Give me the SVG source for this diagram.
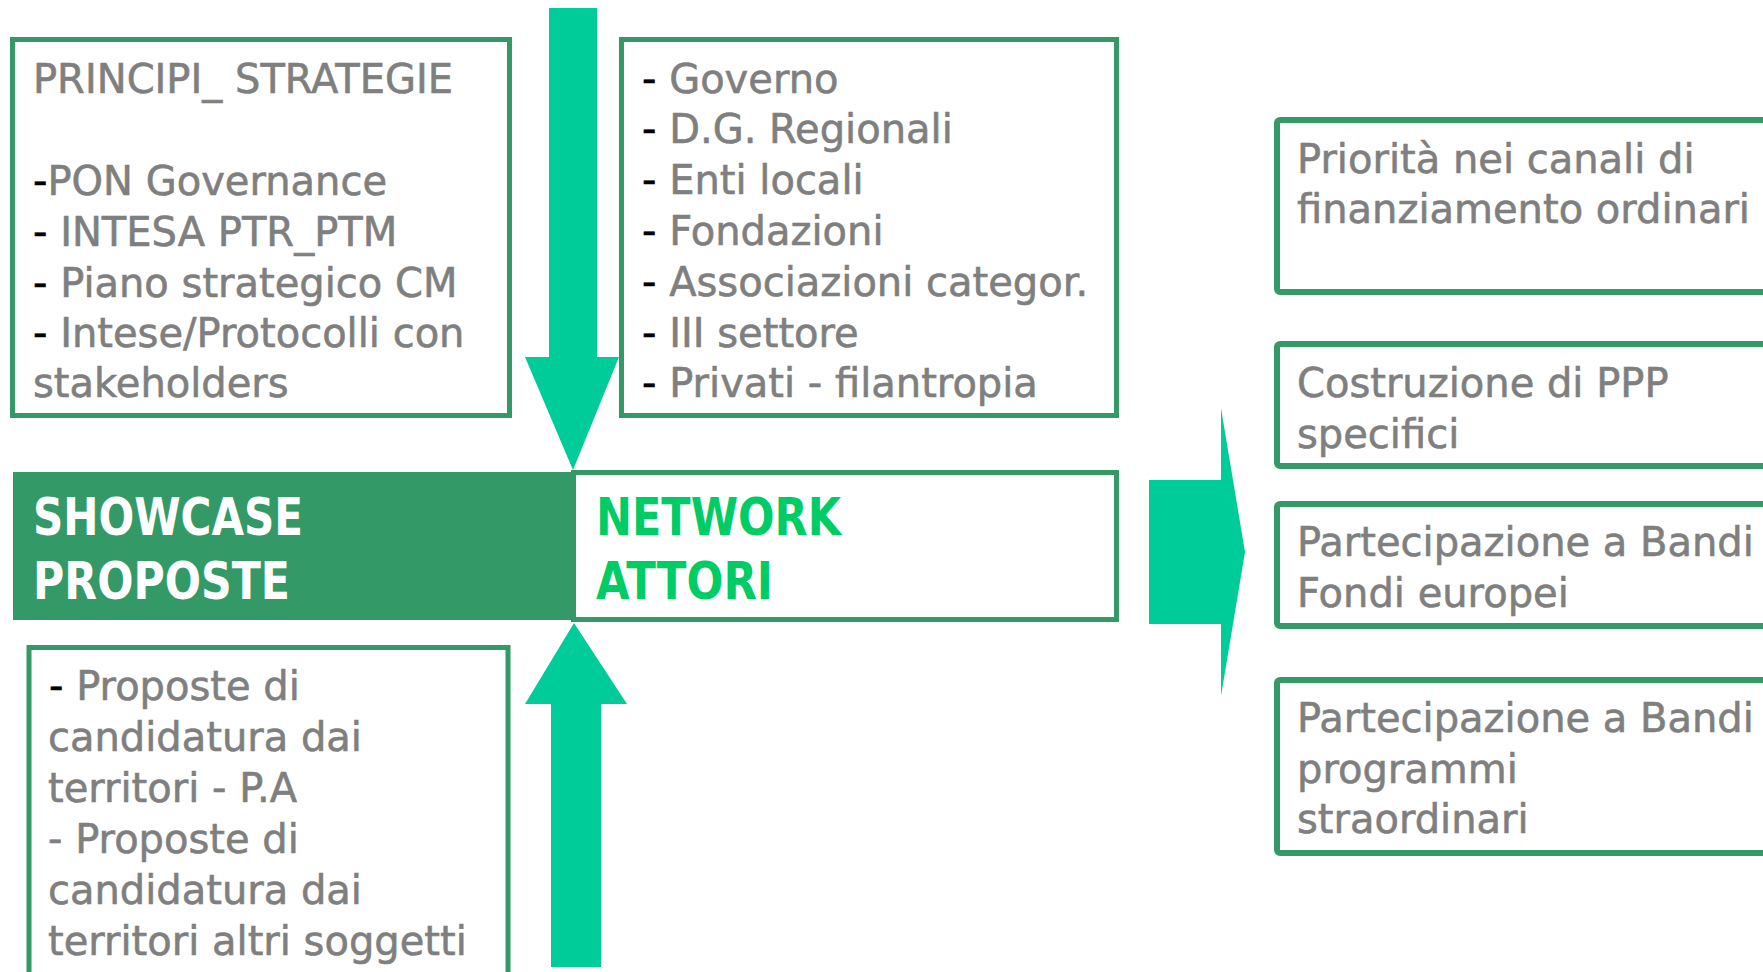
<svg xmlns="http://www.w3.org/2000/svg" width="1763" height="972" viewBox="0 0 1763 972">
<style>
.box{fill:#ffffff;stroke:#339966;stroke-width:5}
.rbox{fill:#ffffff;stroke:#339966;stroke-width:6}
.t{font-family:"DejaVu Sans",Verdana,sans-serif;font-size:40px;fill:#7f7f7f;stroke:#7f7f7f;stroke-width:0.6}
.d{fill:#000000;stroke:#000000}
.big{font-family:"DejaVu Sans",Verdana,sans-serif;font-size:52px;font-weight:bold}
.arrow{fill:#00cc99}
</style>
<rect x="0" y="0" width="1763" height="972" fill="#ffffff"/>
<g id="connectors">
<polygon class="arrow" points="549,8 597,8 597,357 619,357 573,470 525,357 549,357"/>
<polygon class="arrow" points="574,623 627,704 601,704 601,967 551,967 551,704 525,704"/>
<polygon class="arrow" points="1149,480 1221,480 1221,408 1245,552 1221,696 1221,624 1149,624"/>
</g>
<g id="principi">
<rect class="box" x="12.5" y="39.5" width="497" height="376"/>
<text class="t"><tspan x="33" y="93">PRINCIPI_ STRATEGIE</tspan><tspan x="33" y="195"><tspan class="d">-</tspan>PON Governance</tspan><tspan x="33" y="246"><tspan class="d">-</tspan> INTESA PTR_PTM</tspan><tspan x="33" y="297"><tspan class="d">-</tspan> Piano strategico CM</tspan><tspan x="33" y="347"><tspan class="d">-</tspan> Intese/Protocolli con</tspan><tspan x="33" y="397">stakeholders</tspan></text>
</g>
<g id="attori-list">
<rect class="box" x="621.5" y="39.5" width="495" height="376"/>
<text class="t"><tspan x="642" y="93"><tspan class="d">-</tspan> Governo</tspan><tspan x="642" y="143"><tspan class="d">-</tspan> D.G. Regionali</tspan><tspan x="642" y="194"><tspan class="d">-</tspan> Enti locali</tspan><tspan x="642" y="245"><tspan class="d">-</tspan> Fondazioni</tspan><tspan x="642" y="296"><tspan class="d">-</tspan> Associazioni categor.</tspan><tspan x="642" y="347"><tspan class="d">-</tspan> III settore</tspan><tspan x="642" y="397"><tspan class="d">-</tspan> Privati - filantropia</tspan></text>
</g>
<g id="showcase">
<rect x="13" y="472" width="560" height="148" fill="#339966"/>
<text class="big" fill="#ffffff"><tspan x="33" y="535" textLength="270" lengthAdjust="spacingAndGlyphs">SHOWCASE</tspan><tspan x="33" y="599" textLength="257" lengthAdjust="spacingAndGlyphs">PROPOSTE</tspan></text>
</g>
<g id="network">
<rect class="box" x="573.5" y="472.5" width="543" height="147"/>
<text class="big" fill="#00cc66"><tspan x="596" y="535" textLength="245" lengthAdjust="spacingAndGlyphs">NETWORK</tspan><tspan x="596" y="599" textLength="177" lengthAdjust="spacingAndGlyphs">ATTORI</tspan></text>
</g>
<g id="proposte">
<rect class="box" x="29" y="647.5" width="479" height="400"/>
<text class="t"><tspan x="49" y="700"><tspan class="d">-</tspan> Proposte di</tspan><tspan x="48" y="751">candidatura dai</tspan><tspan x="48" y="802">territori - P.A</tspan><tspan x="48" y="853">- Proposte di</tspan><tspan x="48" y="904">candidatura dai</tspan><tspan x="48" y="955">territori altri soggetti</tspan></text>
</g>
<g id="priorita">
<rect class="rbox" x="1277" y="120" width="520" height="172" rx="3"/>
<text class="t"><tspan x="1297" y="173">Priorità nei canali di</tspan><tspan x="1297" y="223">finanziamento ordinari</tspan></text>
</g>
<g id="ppp">
<rect class="rbox" x="1277" y="344" width="520" height="122" rx="3"/>
<text class="t"><tspan x="1297" y="397">Costruzione di PPP</tspan><tspan x="1297" y="448">specifici</tspan></text>
</g>
<g id="bandi-europei">
<rect class="rbox" x="1277" y="504" width="520" height="122" rx="3"/>
<text class="t"><tspan x="1297" y="556">Partecipazione a Bandi</tspan><tspan x="1297" y="607">Fondi europei</tspan></text>
</g>
<g id="bandi-straordinari">
<rect class="rbox" x="1277" y="680" width="520" height="173" rx="3"/>
<text class="t"><tspan x="1297" y="732">Partecipazione a Bandi</tspan><tspan x="1297" y="783">programmi</tspan><tspan x="1297" y="833">straordinari</tspan></text>
</g>
</svg>
